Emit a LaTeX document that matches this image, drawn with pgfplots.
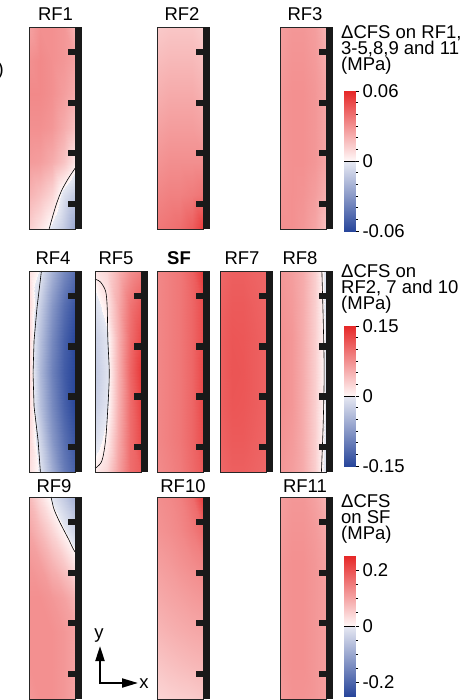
\documentclass[border=0pt]{standalone}
\usepackage{fontspec}
\setmainfont{Liberation Sans}
\usepackage{pgfplots}
\pgfplotsset{compat=1.18}
\usetikzlibrary{arrows.meta}
\newcommand{\fs}{\fontsize{18.5pt}{16pt}\selectfont}
\pgfplotsset{
  colormap={cfs}{rgb255(0pt)=(40,70,155); rgb255(1000pt)=(232,234,243); rgb255(1001pt)=(255,248,248); rgb255(2001pt)=(230,40,40)},
  panel/.style={scale only axis, width=53pt, height=202pt, anchor=north west,
    xmin=0, xmax=1.152, ymin=0, ymax=1, hide axis, colormap name=cfs, clip=false},
  cmap/.style={surf, shader=interp, mesh/cols=5, point meta=explicit},
  cont/.style={black, line width=0.6pt},
  cbar/.style={scale only axis, width=11pt, height=140pt, anchor=north west,
    xmin=0, xmax=1, xtick=\empty, ytick pos=right, yticklabel pos=right,
    scaled y ticks=false,
    tick align=outside, major tick length=4pt, minor tick length=3pt,
    every tick/.style={black, line width=0.8pt},
    yticklabel style={font=\fs},
    axis line style={black!85, line width=0.8pt}, colormap name=cfs, clip=false},
}
\newcommand{\decor}{%
  \draw[black!85, line width=0.7pt] (axis cs:0,0) rectangle (axis cs:1,1);
  \fill[black!90] (axis cs:1,0) rectangle (axis cs:1.152,1);
  \fill[black!90] (axis cs:0.84,0.109) rectangle (axis cs:1,0.141);
  \fill[black!90] (axis cs:0.84,0.359) rectangle (axis cs:1,0.391);
  \fill[black!90] (axis cs:0.84,0.609) rectangle (axis cs:1,0.641);
  \fill[black!90] (axis cs:0.84,0.859) rectangle (axis cs:1,0.891);
}
\begin{document}
\begin{tikzpicture}
\path[use as bounding box] (0,0) rectangle (467pt,-700pt);

% ---------------- Row 1 ----------------
\begin{axis}[panel, at={(29pt,-27pt)}, point meta min=-0.06, point meta max=0.06]
\addplot[cmap] coordinates {
(0,0)[0.012] (0.25,0)[0.006] (0.5,0)[-0.002] (0.75,0)[-0.012] (1,0)[-0.025]

(0,0.1667)[0.020] (0.25,0.1667)[0.016] (0.5,0.1667)[0.010] (0.75,0.1667)[-0.004] (1,0.1667)[-0.012]

(0,0.3333)[0.027] (0.25,0.3333)[0.026] (0.5,0.3333)[0.022] (0.75,0.3333)[0.015] (1,0.3333)[0.005]

(0,0.5)[0.030] (0.25,0.5)[0.030] (0.5,0.5)[0.028] (0.75,0.5)[0.022] (1,0.5)[0.016]

(0,0.6667)[0.032] (0.25,0.6667)[0.032] (0.5,0.6667)[0.030] (0.75,0.6667)[0.026] (1,0.6667)[0.022]

(0,0.8333)[0.030] (0.25,0.8333)[0.032] (0.5,0.8333)[0.030] (0.75,0.8333)[0.028] (1,0.8333)[0.025]

(0,1)[0.025] (0.25,1)[0.030] (0.5,1)[0.030] (0.75,1)[0.028] (1,1)[0.020]
};
\addplot[cont, smooth] coordinates {(1,0.30) (0.854,0.25) (0.708,0.19) (0.598,0.125) (0.511,0.06) (0.438,0)};
\decor
\end{axis}

\begin{axis}[panel, at={(157pt,-27pt)}, point meta min=-0.15, point meta max=0.15]
\addplot[cmap] coordinates {
(0,0)[0.092] (0.25,0)[0.096] (0.5,0)[0.100] (0.75,0)[0.112] (1,0)[0.135]

(0,0.1667)[0.082] (0.25,0.1667)[0.086] (0.5,0.1667)[0.086] (0.75,0.1667)[0.090] (1,0.1667)[0.095]

(0,0.3333)[0.072] (0.25,0.3333)[0.076] (0.5,0.3333)[0.076] (0.75,0.3333)[0.076] (1,0.3333)[0.076]

(0,0.5)[0.062] (0.25,0.5)[0.066] (0.5,0.5)[0.066] (0.75,0.5)[0.066] (1,0.5)[0.062]

(0,0.6667)[0.052] (0.25,0.6667)[0.056] (0.5,0.6667)[0.056] (0.75,0.6667)[0.056] (1,0.6667)[0.050]

(0,0.8333)[0.043] (0.25,0.8333)[0.046] (0.5,0.8333)[0.046] (0.75,0.8333)[0.046] (1,0.8333)[0.041]

(0,1)[0.033] (0.25,1)[0.036] (0.5,1)[0.036] (0.75,1)[0.036] (1,1)[0.030]
};
\decor
\end{axis}

\begin{axis}[panel, at={(280pt,-27pt)}, point meta min=-0.06, point meta max=0.06]
\addplot[cmap] coordinates {
(0,0)[0.030] (0.25,0)[0.030] (0.5,0)[0.028] (0.75,0)[0.024] (1,0)[0.016]

(0,0.1667)[0.029] (0.25,0.1667)[0.030] (0.5,0.1667)[0.029] (0.75,0.1667)[0.026] (1,0.1667)[0.021]

(0,0.3333)[0.028] (0.25,0.3333)[0.030] (0.5,0.3333)[0.030] (0.75,0.3333)[0.028] (1,0.3333)[0.024]

(0,0.5)[0.028] (0.25,0.5)[0.030] (0.5,0.5)[0.030] (0.75,0.5)[0.028] (1,0.5)[0.024]

(0,0.6667)[0.028] (0.25,0.6667)[0.030] (0.5,0.6667)[0.030] (0.75,0.6667)[0.028] (1,0.6667)[0.024]

(0,0.8333)[0.027] (0.25,0.8333)[0.029] (0.5,0.8333)[0.029] (0.75,0.8333)[0.027] (1,0.8333)[0.022]

(0,1)[0.026] (0.25,1)[0.028] (0.5,1)[0.028] (0.75,1)[0.026] (1,1)[0.020]
};
\decor
\end{axis}

% ---------------- Row 2 ----------------
\begin{axis}[panel, height=201pt, at={(29pt,-271pt)}, point meta min=-0.06, point meta max=0.06]
\addplot[cmap] coordinates {
(0,0)[0.008] (0.25,0)[-0.002] (0.5,0)[-0.022] (0.75,0)[-0.040] (1,0)[-0.050]

(0,0.1667)[0.010] (0.25,0.1667)[-0.008] (0.5,0.1667)[-0.030] (0.75,0.1667)[-0.045] (1,0.1667)[-0.055]

(0,0.3333)[0.010] (0.25,0.3333)[-0.015] (0.5,0.3333)[-0.035] (0.75,0.3333)[-0.050] (1,0.3333)[-0.060]

(0,0.5)[0.010] (0.25,0.5)[-0.018] (0.5,0.5)[-0.038] (0.75,0.5)[-0.052] (1,0.5)[-0.062]

(0,0.6667)[0.010] (0.25,0.6667)[-0.015] (0.5,0.6667)[-0.035] (0.75,0.6667)[-0.050] (1,0.6667)[-0.060]

(0,0.8333)[0.010] (0.25,0.8333)[-0.010] (0.5,0.8333)[-0.030] (0.75,0.8333)[-0.045] (1,0.8333)[-0.055]

(0,1)[0.008] (0.25,1)[-0.001] (0.5,1)[-0.020] (0.75,1)[-0.035] (1,1)[-0.045]
};
\addplot[cont] coordinates {(0.27,1) (0.175,0.82) (0.11,0.655) (0.088,0.49) (0.11,0.325) (0.197,0.158) (0.248,0)};
\decor
\end{axis}

\begin{axis}[panel, height=201pt, at={(95pt,-271pt)}, point meta min=-0.06, point meta max=0.06]
\addplot[cmap] coordinates {
(0,0)[0.004] (0.25,0)[0.010] (0.5,0)[0.025] (0.75,0)[0.040] (1,0)[0.045]

(0,0.1667)[-0.005] (0.25,0.1667)[0.003] (0.5,0.1667)[0.022] (0.75,0.1667)[0.040] (1,0.1667)[0.050]

(0,0.3333)[-0.010] (0.25,0.3333)[-0.002] (0.5,0.3333)[0.020] (0.75,0.3333)[0.040] (1,0.3333)[0.052]

(0,0.5)[-0.012] (0.25,0.5)[-0.003] (0.5,0.5)[0.020] (0.75,0.5)[0.042] (1,0.5)[0.055]

(0,0.6667)[-0.010] (0.25,0.6667)[-0.002] (0.5,0.6667)[0.020] (0.75,0.6667)[0.040] (1,0.6667)[0.050]

(0,0.8333)[-0.004] (0.25,0.8333)[0.005] (0.5,0.8333)[0.022] (0.75,0.8333)[0.038] (1,0.8333)[0.045]

(0,1)[0.005] (0.25,1)[0.010] (0.5,1)[0.020] (0.75,1)[0.030] (1,1)[0.035]
};
\addplot[cont, smooth] coordinates {(0,0.96) (0.03,0.957) (0.12,0.945) (0.23,0.9) (0.265,0.82) (0.28,0.655) (0.31,0.49) (0.28,0.323) (0.23,0.158) (0.154,0.058) (0.044,0.025) (0,0.02)};
\decor
\end{axis}

\begin{axis}[panel, height=201pt, at={(157pt,-271pt)}, point meta min=-0.25, point meta max=0.25]
\addplot[cmap] coordinates {
(0,0)[0.130] (0.25,0)[0.140] (0.5,0)[0.150] (0.75,0)[0.170] (1,0)[0.190]

(0,0.1667)[0.135] (0.25,0.1667)[0.145] (0.5,0.1667)[0.155] (0.75,0.1667)[0.175] (1,0.1667)[0.205]

(0,0.3333)[0.135] (0.25,0.3333)[0.145] (0.5,0.3333)[0.155] (0.75,0.3333)[0.175] (1,0.3333)[0.210]

(0,0.5)[0.135] (0.25,0.5)[0.145] (0.5,0.5)[0.155] (0.75,0.5)[0.175] (1,0.5)[0.210]

(0,0.6667)[0.135] (0.25,0.6667)[0.145] (0.5,0.6667)[0.155] (0.75,0.6667)[0.175] (1,0.6667)[0.205]

(0,0.8333)[0.135] (0.25,0.8333)[0.145] (0.5,0.8333)[0.155] (0.75,0.8333)[0.175] (1,0.8333)[0.205]

(0,1)[0.135] (0.25,1)[0.145] (0.5,1)[0.155] (0.75,1)[0.180] (1,1)[0.230]
};
\decor
\end{axis}

\begin{axis}[panel, height=201pt, at={(220pt,-271pt)}, point meta min=-0.15, point meta max=0.15]
\addplot[cmap] coordinates {
(0,0)[0.104] (0.25,0)[0.110] (0.5,0)[0.110] (0.75,0)[0.107] (1,0)[0.104]

(0,0.1667)[0.108] (0.25,0.1667)[0.114] (0.5,0.1667)[0.114] (0.75,0.1667)[0.110] (1,0.1667)[0.106]

(0,0.3333)[0.110] (0.25,0.3333)[0.117] (0.5,0.3333)[0.116] (0.75,0.3333)[0.112] (1,0.3333)[0.108]

(0,0.5)[0.110] (0.25,0.5)[0.118] (0.5,0.5)[0.117] (0.75,0.5)[0.112] (1,0.5)[0.108]

(0,0.6667)[0.110] (0.25,0.6667)[0.117] (0.5,0.6667)[0.116] (0.75,0.6667)[0.112] (1,0.6667)[0.108]

(0,0.8333)[0.108] (0.25,0.8333)[0.114] (0.5,0.8333)[0.114] (0.75,0.8333)[0.110] (1,0.8333)[0.106]

(0,1)[0.104] (0.25,1)[0.110] (0.5,1)[0.110] (0.75,1)[0.107] (1,1)[0.106]
};
\decor
\end{axis}

\begin{axis}[panel, height=201pt, at={(280pt,-271pt)}, point meta min=-0.06, point meta max=0.06]
\addplot[cmap] coordinates {
(0,0)[0.028] (0.25,0)[0.026] (0.5,0)[0.022] (0.75,0)[0.012] (1,0)[-0.004]

(0,0.1667)[0.029] (0.25,0.1667)[0.027] (0.5,0.1667)[0.022] (0.75,0.1667)[0.012] (1,0.1667)[-0.003]

(0,0.3333)[0.030] (0.25,0.3333)[0.028] (0.5,0.3333)[0.022] (0.75,0.3333)[0.012] (1,0.3333)[-0.002]

(0,0.5)[0.030] (0.25,0.5)[0.028] (0.5,0.5)[0.022] (0.75,0.5)[0.012] (1,0.5)[-0.002]

(0,0.6667)[0.030] (0.25,0.6667)[0.028] (0.5,0.6667)[0.022] (0.75,0.6667)[0.012] (1,0.6667)[-0.002]

(0,0.8333)[0.029] (0.25,0.8333)[0.027] (0.5,0.8333)[0.022] (0.75,0.8333)[0.012] (1,0.8333)[-0.003]

(0,1)[0.028] (0.25,1)[0.026] (0.5,1)[0.022] (0.75,1)[0.012] (1,1)[-0.004]
};
\addplot[cont, smooth] coordinates {(0.91,1) (0.94,0.75) (0.96,0.5) (0.94,0.25) (0.90,0)};
\decor
\end{axis}

% ---------------- Row 3 ----------------
\begin{axis}[panel, at={(29pt,-497pt)}, point meta min=-0.06, point meta max=0.06]
\addplot[cmap] coordinates {
(0,0)[0.028] (0.25,0)[0.030] (0.5,0)[0.030] (0.75,0)[0.028] (1,0)[0.025]

(0,0.1667)[0.030] (0.25,0.1667)[0.030] (0.5,0.1667)[0.030] (0.75,0.1667)[0.028] (1,0.1667)[0.025]

(0,0.3333)[0.030] (0.25,0.3333)[0.030] (0.5,0.3333)[0.030] (0.75,0.3333)[0.028] (1,0.3333)[0.025]

(0,0.5)[0.030] (0.25,0.5)[0.030] (0.5,0.5)[0.028] (0.75,0.5)[0.025] (1,0.5)[0.020]

(0,0.6667)[0.028] (0.25,0.6667)[0.026] (0.5,0.6667)[0.020] (0.75,0.6667)[0.014] (1,0.6667)[0.006]

(0,0.8333)[0.024] (0.25,0.8333)[0.018] (0.5,0.8333)[0.010] (0.75,0.8333)[0.001] (1,0.8333)[-0.008]

(0,1)[0.018] (0.25,1)[0.008] (0.5,1)[-0.002] (0.75,1)[-0.012] (1,1)[-0.022]
};
\addplot[cont, smooth] coordinates {(0.48,1) (0.54,0.942) (0.65,0.884) (0.76,0.835) (0.874,0.785) (0.948,0.749) (1,0.728)};
\decor
\end{axis}

\begin{axis}[panel, at={(157pt,-497pt)}, point meta min=-0.15, point meta max=0.15]
\addplot[cmap] coordinates {
(0,0)[0.025] (0.25,0)[0.028] (0.5,0)[0.030] (0.75,0)[0.032] (1,0)[0.035]

(0,0.1667)[0.036] (0.25,0.1667)[0.040] (0.5,0.1667)[0.043] (0.75,0.1667)[0.046] (1,0.1667)[0.048]

(0,0.3333)[0.047] (0.25,0.3333)[0.051] (0.5,0.3333)[0.054] (0.75,0.3333)[0.057] (1,0.3333)[0.059]

(0,0.5)[0.056] (0.25,0.5)[0.060] (0.5,0.5)[0.063] (0.75,0.5)[0.067] (1,0.5)[0.070]

(0,0.6667)[0.064] (0.25,0.6667)[0.068] (0.5,0.6667)[0.073] (0.75,0.6667)[0.078] (1,0.6667)[0.083]

(0,0.8333)[0.072] (0.25,0.8333)[0.076] (0.5,0.8333)[0.081] (0.75,0.8333)[0.090] (1,0.8333)[0.102]

(0,1)[0.076] (0.25,1)[0.080] (0.5,1)[0.086] (0.75,1)[0.100] (1,1)[0.135]
};
\decor
\end{axis}

\begin{axis}[panel, at={(280pt,-497pt)}, point meta min=-0.06, point meta max=0.06]
\addplot[cmap] coordinates {
(0,0)[0.027] (0.25,0)[0.029] (0.5,0)[0.029] (0.75,0)[0.028] (1,0)[0.026]

(0,0.1667)[0.028] (0.25,0.1667)[0.030] (0.5,0.1667)[0.030] (0.75,0.1667)[0.028] (1,0.1667)[0.026]

(0,0.3333)[0.028] (0.25,0.3333)[0.030] (0.5,0.3333)[0.030] (0.75,0.3333)[0.028] (1,0.3333)[0.026]

(0,0.5)[0.028] (0.25,0.5)[0.030] (0.5,0.5)[0.030] (0.75,0.5)[0.028] (1,0.5)[0.026]

(0,0.6667)[0.028] (0.25,0.6667)[0.030] (0.5,0.6667)[0.030] (0.75,0.6667)[0.028] (1,0.6667)[0.025]

(0,0.8333)[0.027] (0.25,0.8333)[0.029] (0.5,0.8333)[0.029] (0.75,0.8333)[0.027] (1,0.8333)[0.023]

(0,1)[0.026] (0.25,1)[0.028] (0.5,1)[0.028] (0.75,1)[0.025] (1,1)[0.020]
};
\decor
\end{axis}

% ---------------- Colour bars ----------------
\begin{axis}[cbar, at={(344pt,-91pt)}, ymin=-0.06, ymax=0.06,
  ytick={-0.06,0,0.06}, yticklabels={-0.06,0,0.06},
  minor ytick={-0.05,-0.04,-0.03,-0.02,-0.01,0.01,0.02,0.03,0.04,0.05},
  point meta min=-0.06, point meta max=0.06]
\addplot[surf, shader=interp, point meta=explicit] coordinates {(0,0.0005)[0.0005] (1,0.0005)[0.0005]

(0,0.06)[0.06] (1,0.06)[0.06]};
\addplot[surf, shader=interp, point meta=explicit] coordinates {(0,-0.06)[-0.06] (1,-0.06)[-0.06]

(0,-0.0005)[-0.0005] (1,-0.0005)[-0.0005]};
\draw[black, line width=0.8pt] (axis cs:0,0) -- (axis cs:1,0);
\end{axis}

\begin{axis}[cbar, at={(344pt,-326pt)}, ymin=-0.15, ymax=0.15,
  ytick={-0.15,0,0.15}, yticklabels={-0.15,0,0.15},
  minor ytick={-0.125,-0.1,-0.075,-0.05,-0.025,0.025,0.05,0.075,0.1,0.125},
  point meta min=-0.15, point meta max=0.15]
\addplot[surf, shader=interp, point meta=explicit] coordinates {(0,0.001)[0.001] (1,0.001)[0.001]

(0,0.15)[0.15] (1,0.15)[0.15]};
\addplot[surf, shader=interp, point meta=explicit] coordinates {(0,-0.15)[-0.15] (1,-0.15)[-0.15]

(0,-0.001)[-0.001] (1,-0.001)[-0.001]};
\draw[black, line width=0.8pt] (axis cs:0,0) -- (axis cs:1,0);
\end{axis}

\begin{axis}[cbar, at={(344pt,-556pt)}, ymin=-0.25, ymax=0.25,
  ytick={-0.2,0,0.2}, yticklabels={-0.2,0,0.2},
  minor ytick={-0.15,-0.1,-0.05,0.05,0.1,0.15},
  point meta min=-0.25, point meta max=0.25]
\addplot[surf, shader=interp, point meta=explicit] coordinates {(0,0.001)[0.001] (1,0.001)[0.001]

(0,0.25)[0.25] (1,0.25)[0.25]};
\addplot[surf, shader=interp, point meta=explicit] coordinates {(0,-0.25)[-0.25] (1,-0.25)[-0.25]

(0,-0.001)[-0.001] (1,-0.001)[-0.001]};
\draw[black, line width=0.8pt] (axis cs:0,0) -- (axis cs:1,0);
\end{axis}

% ---------------- Titles ----------------
\begin{scope}[every node/.style={font=\fs, inner sep=0pt}]
\node[anchor=base] at (55.5pt,-21pt) {RF1};
\node[anchor=base] at (182pt,-21pt) {RF2};
\node[anchor=base] at (305pt,-21pt) {RF3};
\node[anchor=base] at (53pt,-264pt) {RF4};
\node[anchor=base] at (116pt,-264pt) {RF5};
\node[anchor=base] at (179pt,-264pt) {\bfseries SF};
\node[anchor=base] at (242pt,-264pt) {RF7};
\node[anchor=base] at (300pt,-264pt) {RF8};
\node[anchor=base] at (54pt,-492pt) {RF9};
\node[anchor=base] at (183pt,-492pt) {RF10};
\node[anchor=base] at (305pt,-492pt) {RF11};
\node[anchor=base east] at (4pt,-76pt) {)};
% colour bar titles
\node[anchor=base west] at (341pt,-39pt) {ΔCFS on RF1,};
\node[anchor=base west] at (341pt,-55pt) {3-5,8,9 and 11};
\node[anchor=base west] at (341pt,-71pt) {(MPa)};
\node[anchor=base west] at (341pt,-277pt) {ΔCFS on};
\node[anchor=base west] at (341pt,-293pt) {RF2, 7 and 10};
\node[anchor=base west] at (341pt,-309pt) {(MPa)};
\node[anchor=base west] at (341pt,-507pt) {ΔCFS};
\node[anchor=base west] at (341pt,-523pt) {on SF};
\node[anchor=base west] at (341pt,-539pt) {(MPa)};
% axes indicator
\node[anchor=base] at (99pt,-638pt) {y};
\node[anchor=base] at (144pt,-688pt) {x};
\end{scope}
\draw[line width=2pt, -{Triangle[length=15pt,width=9pt]}] (100pt,-684pt) -- (100pt,-646pt);
\draw[line width=2pt, -{Triangle[length=16pt,width=9pt]}] (99pt,-683pt) -- (138pt,-683pt);
\end{tikzpicture}
\end{document}
